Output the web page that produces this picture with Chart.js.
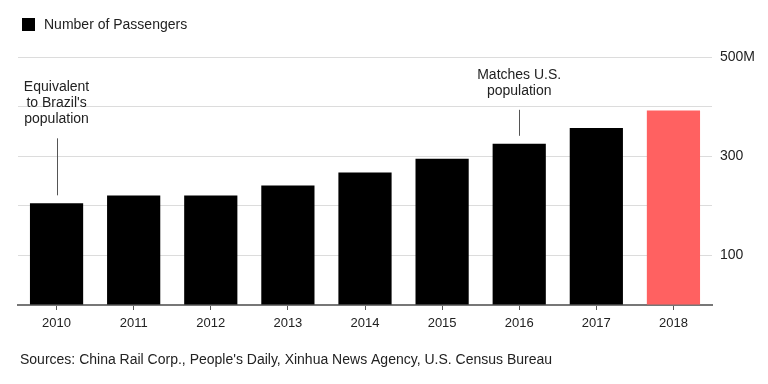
<!DOCTYPE html>
<html>
<head>
<meta charset="utf-8">
<script src="https://cdn.jsdelivr.net/npm/chart.js@4/dist/chart.umd.min.js"></script>
<style>
    html, body { margin: 0; padding: 0; background: #fff; }
    #wrap { width: 768px; height: 384px; position: relative; }
</style>
</head>
<body>
<div id="wrap"><canvas id="passengerChart" width="768" height="384"></canvas></div>
<script>
// data
const years = ["2010", "2011", "2012", "2013", "2014", "2015", "2016", "2017", "2018"];
const passengers = [205, 221, 221, 241, 267, 295, 325, 357, 392]; // millions
const barColors = ["#000", "#000", "#000", "#000", "#000", "#000", "#000", "#000", "#ff6161"];
const yTickLabels = { 100: "100", 300: "300", 500: "500M" };
const legendLabel = "Number of Passengers";
const sourceNote = "Sources: China Rail Corp., People's Daily, Xinhua News Agency, U.S. Census Bureau";
const notes = [
    { index: 0, lines: ["Equivalent", "to Brazil's", "population"], gap: 8, stem: 57 },
    { index: 6, lines: ["Matches U.S.", "population"], gap: 8, stem: 26 }
];

const FONT = "'Liberation Sans', Arial, sans-serif";

const extrasPlugin = {
    id: "extras",
    afterDraw: (chart) =>
    {
        const ctx = chart.ctx;
        const x = chart.scales.x;
        const y = chart.scales.y;
        ctx.save();

        // legend
        ctx.fillStyle = "#000";
        ctx.fillRect(22, 18, 13, 13);
        ctx.fillStyle = "#222";
        ctx.font = "14px " + FONT;
        ctx.textAlign = "left";
        ctx.textBaseline = "middle";
        ctx.fillText(legendLabel, 44, 25);

        // source line
        ctx.fillText(sourceNote, 20, 360);

        // annotations
        notes.forEach(note =>
        {
            const cx = x.getPixelForValue(note.index);
            const barTop = y.getPixelForValue(passengers[note.index]);
            const lineBottom = barTop - note.gap;
            const lineTop = lineBottom - note.stem;

            ctx.strokeStyle = "#555";
            ctx.lineWidth = 1;
            ctx.beginPath();
            ctx.moveTo(Math.round(cx) + 0.5, lineTop);
            ctx.lineTo(Math.round(cx) + 0.5, lineBottom);
            ctx.stroke();

            ctx.fillStyle = "#222";
            ctx.textAlign = "center";
            ctx.textBaseline = "middle";
            const lineHeight = 16;
            const lastY = lineTop - 19;
            note.lines.forEach((text, i) =>
            {
                ctx.fillText(text, cx, lastY - (note.lines.length - 1 - i) * lineHeight);
            });
        });

        ctx.restore();
    }
};

new Chart(document.getElementById("passengerChart"), {
    type: "bar",
    data: {
        labels: years,
        datasets: [
            {
                label: legendLabel,
                data: passengers,
                backgroundColor: barColors,
                borderWidth: 0,
                barPercentage: 0.69,
                categoryPercentage: 1.0
            }
        ]
    },
    options: {
        responsive: false,
        animation: false,
        layout: { padding: { left: 18, top: 57, right: 0, bottom: 0 } },
        plugins: {
            legend: { display: false },
            tooltip: { enabled: false }
        },
        scales: {
            x: {
                afterFit: (scale) => { scale.height = 79; },
                grid: {
                    offset: false,
                    drawOnChartArea: false,
                    drawTicks: true,
                    tickLength: 5,
                    color: "#555"
                },
                border: { display: true, color: "#777", width: 2 },
                ticks: {
                    color: "#222",
                    padding: 6,
                    font: { family: FONT, size: 13 }
                }
            },
            y: {
                position: "right",
                min: 0,
                max: 500,
                afterFit: (scale) => { scale.width = 56; },
                grid: {
                    drawTicks: false,
                    color: (c) => c.tick && c.tick.value === 0 ? "rgba(0,0,0,0)" : "#dcdcdc",
                    lineWidth: 1
                },
                border: { display: false },
                ticks: {
                    stepSize: 100,
                    padding: 8,
                    color: "#222",
                    font: { family: FONT, size: 14 },
                    callback: (value) => yTickLabels[value] || ""
                }
            }
        }
    },
    plugins: [extrasPlugin]
});
</script>
</body>
</html>
